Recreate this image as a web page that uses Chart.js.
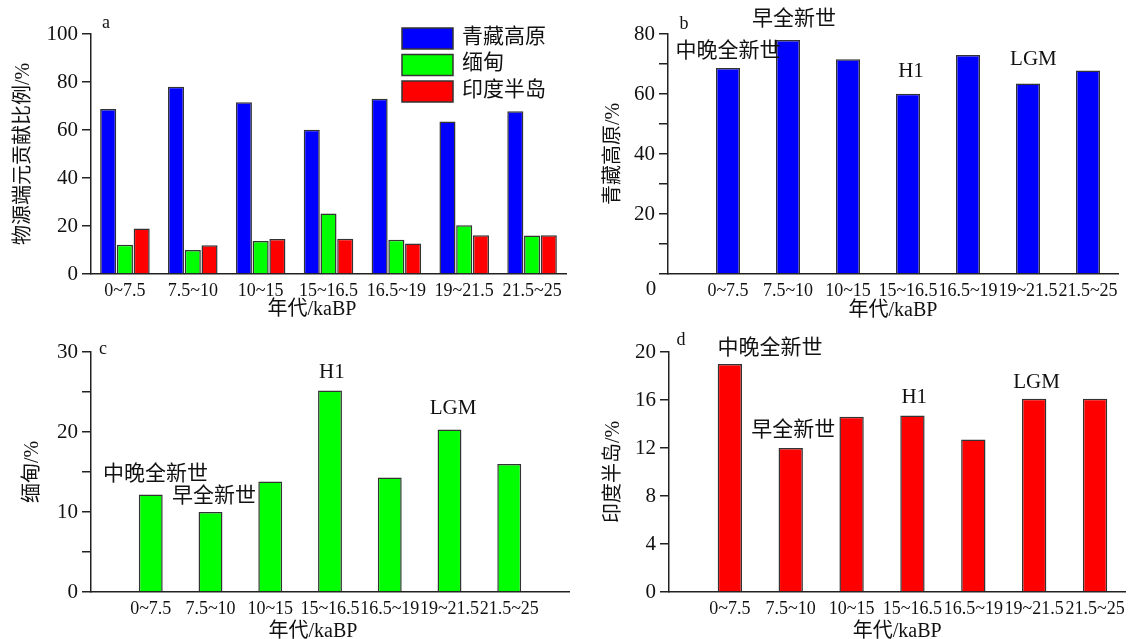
<!DOCTYPE html>
<html>
<head>
<meta charset="utf-8">
<script src="https://cdn.jsdelivr.net/npm/chart.js@4.4.0/dist/chart.umd.min.js"></script>
<style>
    body { margin: 0; width: 1131px; height: 639px; background: #fff; position: relative; overflow: hidden; }
    canvas { position: absolute; }
</style>
</head>
<body>
<canvas id="chartA" width="575" height="320" style="left:0;top:0"></canvas>
<canvas id="chartB" width="566" height="320" style="left:565px;top:0"></canvas>
<canvas id="chartC" width="575" height="319" style="left:0;top:320px"></canvas>
<canvas id="chartD" width="566" height="319" style="left:565px;top:320px"></canvas>
<script>
// age bins (ka BP)
var periods = ['0~7.5', '7.5~10', '10~15', '15~16.5', '16.5~19', '19~21.5', '21.5~25'];

// source contributions, %
var tibet = [68.7, 78.0, 71.6, 60.1, 73.0, 63.5, 67.8];
var myanmar = [12.2, 10.0, 13.8, 25.2, 14.3, 20.3, 16.0];
var india = [19.0, 12.0, 14.6, 14.7, 12.7, 16.1, 16.1];

var sourceNames = ['青藏高原', '缅甸', '印度半岛'];
var sourceColors = ['#0000ff', '#00ff00', '#ff0000'];

// labelled y ticks per panel
var ticksA = [0, 20, 40, 60, 80, 100];
var ticksB = [20, 40, 60, 80];
var ticksC = [0, 10, 20, 30];
var ticksD = [0, 4, 8, 12, 16, 20];

var FONT = '"Liberation Serif", "Noto Sans CJK SC", serif';
var INK = '#111';
var AXIS = '#222';
var X_TITLE = '年代/kaBP';

var textPlugin = {
    id: 'panelText',
    afterDraw: function (chart, args, opts) {
        var ctx = chart.ctx;
        var area = chart.chartArea;
        var xs = chart.scales.x;
        var ys = chart.scales.y;
        ctx.save();
        ctx.fillStyle = INK;
        ctx.textAlign = 'center';
        ctx.textBaseline = 'middle';
        (opts.notes || []).forEach(function (n) {
            ctx.font = (n.size || 21) + 'px ' + FONT;
            ctx.fillText(n.text, xs.getPixelForValue(n.x), ys.getPixelForValue(n.y));
        });
        (opts.marks || []).forEach(function (m) {
            ctx.font = (m.size || 18) + 'px ' + FONT;
            var y = m.fromBottom ? area.bottom + m.dy : area.top + m.dy;
            ctx.fillText(m.text, area.left + m.dx, y);
        });
        if (opts.legend) {
            chart.data.datasets.forEach(function (ds, i) {
                var top = 28 + i * 26.5;
                ctx.fillStyle = ds.backgroundColor;
                ctx.fillRect(402, top, 51, 21);
                ctx.strokeStyle = '#333';
                ctx.lineWidth = 1.5;
                ctx.strokeRect(402, top, 51, 21);
                ctx.fillStyle = INK;
                ctx.textAlign = 'left';
                ctx.font = '21px ' + FONT;
                ctx.fillText(ds.label, 462, top + 9);
            });
        }
        ctx.restore();
    }
};

function barSet(label, values, color, linearX) {
    return {
        label: label,
        data: linearX ? values.map(function (v, i) { return { x: i, y: v }; }) : values,
        backgroundColor: color,
        borderColor: '#333',
        borderWidth: 1.5
    };
}

function yScale(cfg) {
    return {
        type: 'linear',
        min: 0,
        max: cfg.max,
        ticks: {
            stepSize: cfg.step,
            color: INK,
            padding: 4,
            font: { family: FONT, size: 21 },
            callback: function (v) { return cfg.labels.indexOf(v) >= 0 ? v : ''; }
        },
        grid: { display: true, drawOnChartArea: false, drawTicks: true, tickLength: 9, color: AXIS, lineWidth: 1.5 },
        border: { display: true, color: AXIS, width: 1.5 },
        title: {
            display: true,
            text: cfg.title,
            color: INK,
            font: { family: FONT, size: 20, lineHeight: 1.2 },
            padding: { top: cfg.titlePad, bottom: 0 }
        },
        afterFit: function (s) { s.width = cfg.width; }
    };
}

function xScale(cfg) {
    var sc = {
        grid: { display: false, drawTicks: false },
        border: { display: true, color: AXIS, width: 1.5 },
        ticks: {
            color: INK,
            padding: 6,
            maxRotation: 0,
            autoSkip: false,
            font: { family: FONT, size: 18 }
        },
        title: {
            display: cfg.showTitle,
            text: X_TITLE,
            color: INK,
            font: { family: FONT, size: 20, lineHeight: 1 },
            padding: { top: 0, bottom: cfg.titlePad || 0 }
        },
        afterFit: function (s) { s.height = cfg.height; }
    };
    if (cfg.linear) {
        sc.type = 'linear';
        sc.min = -1;
        sc.max = cfg.max;
        sc.offset = false;
        sc.ticks.stepSize = 1;
        sc.ticks.includeBounds = false;
        sc.ticks.callback = function (v) { return periods[v] || ''; };
    } else {
        sc.type = 'category';
        sc.offset = true;
    }
    return sc;
}

function makeChart(id, datasets, cfg) {
    return new Chart(document.getElementById(id), {
        type: 'bar',
        data: { labels: periods, datasets: datasets },
        options: {
            responsive: false,
            animation: false,
            datasets: { bar: { categoryPercentage: cfg.catPct, barPercentage: cfg.barPct } },
            layout: { padding: { top: cfg.padTop, right: cfg.padRight, bottom: 0, left: 0 } },
            plugins: {
                legend: { display: false },
                tooltip: { enabled: false },
                panelText: cfg.text
            },
            scales: { x: cfg.x, y: cfg.y }
        },
        plugins: [textPlugin]
    });
}

// a: all three sources
makeChart('chartA', [
    barSet(sourceNames[0], tibet, sourceColors[0], false),
    barSet(sourceNames[1], myanmar, sourceColors[1], false),
    barSet(sourceNames[2], india, sourceColors[2], false)
], {
    catPct: 0.74, barPct: 0.96, padTop: 34, padRight: 9,
    x: xScale({ linear: false, height: 46, showTitle: false }),
    y: yScale({ max: 100, step: 10, labels: ticksA, title: '物源端元贡献比例/%', titlePad: 12, width: 91 }),
    text: {
        legend: true,
        marks: [
            { text: 'a', dx: 15, dy: -11 },
            { text: X_TITLE, dx: 221, dy: 36, fromBottom: true, size: 20 }
        ]
    }
});

// b: Tibetan Plateau
makeChart('chartB', [barSet(sourceNames[0], tibet, sourceColors[0], true)], {
    catPct: 1, barPct: 0.4, padTop: 34, padRight: 13,
    x: xScale({ linear: true, max: 6.5, height: 46, showTitle: true, titlePad: -1 }),
    y: yScale({ max: 80, step: 10, labels: ticksB, title: '青藏高原/%', titlePad: 37, width: 103 }),
    text: {
        notes: [
            { text: '早全新世', x: 1.1, y: 84.8 },
            { text: '中晚全新世', x: 0, y: 74.1 },
            { text: 'H1', x: 3.05, y: 67.4 },
            { text: 'LGM', x: 5.09, y: 71.4 }
        ],
        marks: [
            { text: 'b', dx: 16, dy: -10 },
            { text: '0', dx: -17, dy: 15, fromBottom: true, size: 21 }
        ]
    }
});

// c: Myanmar
makeChart('chartC', [barSet(sourceNames[1], myanmar, sourceColors[1], true)], {
    catPct: 1, barPct: 0.4, padTop: 32, padRight: 4,
    x: xScale({ linear: true, max: 7, height: 47, showTitle: false }),
    y: yScale({ max: 30, step: 5, labels: ticksC, title: '缅甸/%', titlePad: 21, width: 91 }),
    text: {
        notes: [
            { text: 'H1', x: 3.03, y: 27.5 },
            { text: 'LGM', x: 5.06, y: 22.9 },
            { text: '中晚全新世', x: 0.08, y: 14.7 },
            { text: '早全新世', x: 1.06, y: 11.9 }
        ],
        marks: [
            { text: 'c', dx: 12, dy: -3 },
            { text: X_TITLE, dx: 222, dy: 40, fromBottom: true, size: 20 }
        ]
    }
});

// d: Indian Peninsula
makeChart('chartD', [barSet(sourceNames[2], india, sourceColors[2], true)], {
    catPct: 1, barPct: 0.4, padTop: 32, padRight: 5,
    x: xScale({ linear: true, max: 6.5, height: 47, showTitle: true, titlePad: -3 }),
    y: yScale({ max: 20, step: 2, labels: ticksD, title: '印度半岛/%', titlePad: 37, width: 104 }),
    text: {
        notes: [
            { text: '中晚全新世', x: 0.66, y: 20.3 },
            { text: '早全新世', x: 1.04, y: 13.5 },
            { text: 'H1', x: 3.03, y: 16.25 },
            { text: 'LGM', x: 5.04, y: 17.5 }
        ],
        marks: [{ text: 'd', dx: 12, dy: -12 }]
    }
});
</script>
</body>
</html>
